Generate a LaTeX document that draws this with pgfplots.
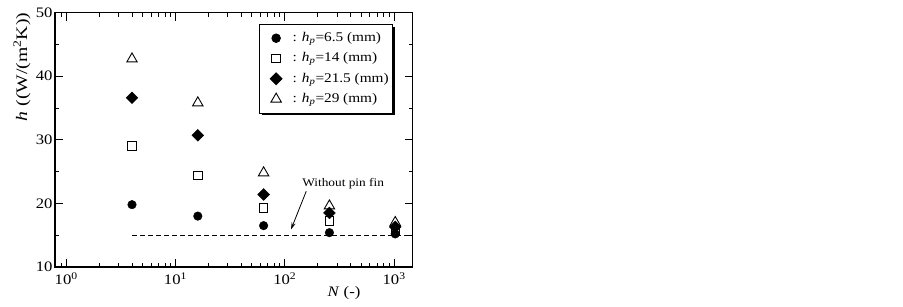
\documentclass[border=0pt]{standalone}
\usepackage{pgfplots}
\pgfplotsset{compat=1.18}
\usepackage{fontspec}
\setmainfont[FakeStretch=1.15]{Liberation Serif}
\newfontfamily\ylabfont[FakeStretch=1.23]{Liberation Serif}
\usetikzlibrary{shadows,arrows.meta}
\begin{document}
\begin{tikzpicture}[x=1pt,y=1pt]
\path[use as bounding box, fill=white] (0,0) rectangle (903,306);
\begin{axis}[
  at={(55pt,39pt)}, anchor=south west, scale only axis,
  width=357.7pt, height=254.5pt,
  xmode=log, xmin=0.79, xmax=1480, ymin=10, ymax=50,
  xtick={1,10,100,1000},
  xticklabels={10\textsuperscript{0},10\textsuperscript{1},10\textsuperscript{2},10\textsuperscript{3}},
  minor xtick={0.8,0.9,2,3,4,5,6,7,8,9,20,30,40,50,60,70,80,90,200,300,400,500,600,700,800,900},
  ytick={10,20,30,40,50}, yticklabels={10,20,30,40,50},
  minor ytick={15,25,35,45},
  tick align=inside, major tick length=8pt, minor tick length=4pt,
  axis line style={line width=1.1pt},
  every tick/.style={black, line width=0.8pt},
  tick label style={font=\fontsize{14.5}{17}\selectfont},
  xticklabel style={yshift=-2pt},
  yticklabel style={xshift=1pt},
  legend cell align=left,
  legend image code/.code={\path (0pt,0pt) (28pt,0pt);
    \draw[mark repeat=2,mark phase=2,#1] plot coordinates {(0pt,0pt) (14pt,0pt) (28pt,0pt)};},
  legend style={at={(0.571,0.955)}, anchor=north west, draw=black, line width=0.8pt,
    fill=white, drop shadow={shadow xshift=2.5pt, shadow yshift=-2.5pt, fill=black, opacity=1},
    font=\fontsize{13.3}{15}\selectfont, row sep=3.8pt, inner xsep=2pt, inner ysep=5.6pt,
    nodes={inner xsep=2pt, inner ysep=2pt, text height=9.5pt, text depth=3pt}},
]
\addplot[dashed, dash pattern=on 5pt off 3pt, line width=0.9pt, black, forget plot] coordinates {(4,14.9) (1480,14.9)};
\addplot[only marks, mark=*, mark size=4.3pt, black] coordinates {(4,19.8) (16,18.0) (64,16.5) (256,15.4) (1024,15.2)};
\addlegendentry{: \textit{h}\textsubscript{\textit{p}}=6.5 (mm)}
\addplot[only marks, mark=square, mark size=4.2pt, black, line width=1pt, mark options={fill=white}] coordinates {(4,29.0) (16,24.4) (64,19.3) (256,17.2) (1024,15.6)};
\addlegendentry{: \textit{h}\textsubscript{\textit{p}}=14 (mm)}
\addplot[only marks, mark=square*, mark size=4.2pt, black, mark options={rotate=45}] coordinates {(4,36.6) (16,30.7) (64,21.4) (256,18.5) (1024,16.3)};
\addlegendentry{: \textit{h}\textsubscript{\textit{p}}=21.5 (mm)}
\addplot[only marks, mark=triangle, mark size=6pt, black, line width=0.9pt, mark options={fill=white}] coordinates {(4,42.7) (16,35.8) (64,24.8) (256,19.6) (1024,17.0)};
\addlegendentry{: \textit{h}\textsubscript{\textit{p}}=29 (mm)}
\node[font=\fontsize{11.6}{14}\selectfont] at (axis cs:342,23.1) {Without pin fin};
\draw[-{Stealth[length=7pt,width=4pt]}, line width=0.8pt] (axis cs:157,21.9) -- (axis cs:114,15.9);
\end{axis}
\node[font=\fontsize{14.5}{17}\selectfont] at (344,13) {\textit{N} (-)};
\node[font=\ylabfont\fontsize{16}{18}\selectfont, rotate=90] at (22,239) {\textit{h} ((W/(m\textsuperscript{2}K))};
\end{tikzpicture}
\end{document}
